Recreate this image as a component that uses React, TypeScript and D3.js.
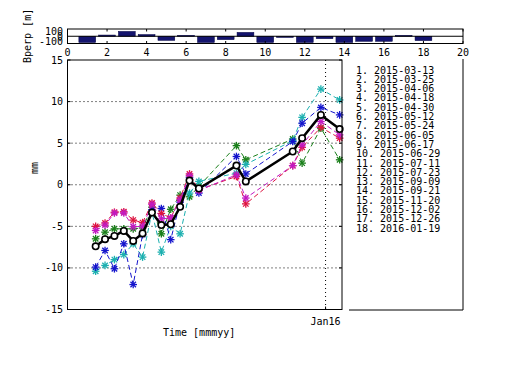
import React from "react";
import * as d3 from "d3";

const dates = ["2015-03-13","2015-03-25","2015-04-06","2015-04-18","2015-04-30","2015-05-12","2015-05-24","2015-06-05","2015-06-17","2015-06-29","2015-07-11","2015-07-23","2015-09-09","2015-09-21","2015-11-20","2015-12-02","2015-12-26","2016-01-19"];
const bperp = [-130, 25, 100, 35, -85, 20, -130, -70, 80, -130, -25, -130, -50, -130, -105, -105, 20, -90];

const meanSeries = [-7.4,-6.55,-6.15,-5.55,-6.75,-5.85,-3.35,-4.85,-4.75,-2.65,0.5,-0.45,2.3,0.4,4.0,5.6,8.4,6.7];
const redSeries = [-5.0,-4.6,-3.3,-3.25,-4.25,-4.55,-2.2,-3.45,-4.0,-1.6,1.3,-0.6,1.0,-2.3,2.3,4.5,6.9,5.6];
const magentaSeries = [-5.5,-4.85,-3.4,-3.4,-5.05,-5.0,-2.35,-4.1,-4.0,-1.8,1.1,-0.7,1.2,-1.6,2.3,4.8,7.6,6.0];
const greenSeries = [-6.5,-5.7,-5.3,-5.3,-5.3,-5.2,-2.7,-5.9,-2.95,-1.25,-1.45,-0.2,4.7,3.0,5.5,2.6,6.8,3.0];
const blueSeries = [-9.9,-7.9,-10.1,-7.1,-12.0,-6.0,-3.0,-2.85,-6.6,-2.1,0.9,-1.0,3.4,1.3,5.2,7.4,9.3,8.4];
const cyanSeries = [-10.4,-9.7,-9.0,-8.4,-7.1,-8.7,-3.3,-8.1,-5.0,-5.9,-1.0,0.4,1.4,2.45,5.3,8.1,11.5,10.2];

const colorSeries = [
  { values: greenSeries, color: "#1a7f1a" },
  { values: cyanSeries, color: "#1cb0b0" },
  { values: blueSeries, color: "#1414cc" },
  { values: redSeries, color: "#dd1440" },
  { values: magentaSeries, color: "#c21ac2" },
];

const yTicks = [-15, -10, -5, 0, 5, 10, 15];
const gridTicks = [-10, -5, 0, 5, 10];
const barXTicks = [0, 2, 4, 6, 8, 10, 12, 14, 16, 18, 20];
const barYTicks = [100, 0, -100];

const FONT = "'DejaVu Sans Mono', monospace";

function Star({ x, y, color }: { x: number; y: number; color: string }) {
  const r = 3.8;
  const d = r * 0.72;
  return (
    <g stroke={color} strokeWidth={1.3}>
      <line x1={x - r} y1={y} x2={x + r} y2={y} />
      <line x1={x} y1={y - r} x2={x} y2={y + r} />
      <line x1={x - d} y1={y - d} x2={x + d} y2={y + d} />
      <line x1={x - d} y1={y + d} x2={x + d} y2={y - d} />
    </g>
  );
}

export default function App() {
  const parse = d3.timeParse("%Y-%m-%d");
  const dts = dates.map((s) => parse(s) as Date);

  const L = 67.5, R = 342, T = 60, B = 309.5;
  const x = d3.scaleTime().domain([new Date(2015, 1, 5), new Date(2016, 0, 22)]).range([L, R]);
  const y = d3.scaleLinear().domain([-15, 15]).range([B, T]);

  const bx = d3.scaleLinear().domain([0, 20]).range([67.5, 463]);
  const by = d3.scaleLinear().domain([-150, 150]).range([43.5, 29]);

  const line = d3.line<number>().x((_, i) => x(dts[i])).y((v) => y(v));
  const jan16 = x(new Date(2016, 0, 1));

  return (
    <svg width={512} height={384} style={{ position: "absolute", left: 0, top: 0, background: "#fff" }} fontFamily={FONT}>
      <rect width={512} height={384} fill="#fff" />
      {/* Bar chart */}
      {bperp.map((v, i) => {
        const cx = bx(i + 1);
        const w = bx(0.85) - bx(0);
        return (
          <rect key={i} x={cx - w / 2} y={Math.min(by(v), by(0))} width={w} height={Math.abs(by(v) - by(0))}
            fill="#14146e" stroke="#000040" strokeWidth={0.5} />
        );
      })}
      <line x1={bx(0)} x2={bx(20)} y1={by(0)} y2={by(0)} stroke="#000" strokeWidth={1} />
      <rect x={bx(0)} y={29} width={bx(20) - bx(0)} height={14.5} fill="none" stroke="#000" strokeWidth={1} />
      {barXTicks.map((t) => (
        <g key={t}>
          <line x1={bx(t)} x2={bx(t)} y1={29} y2={31.5} stroke="#000" />
          <line x1={bx(t)} x2={bx(t)} y1={41} y2={43.5} stroke="#000" />
          <text x={bx(t)} y={56} fontSize={10} textAnchor="middle" fill="#000">{t}</text>
        </g>
      ))}
      {barYTicks.map((t) => (
        <text key={t} x={63} y={by(t) + 3.5} fontSize={10} textAnchor="end" fill="#000">{t}</text>
      ))}
      <text transform="translate(31,63) rotate(-90)" fontSize={10} fill="#000">Bperp [m]</text>

      {/* Main plot grid */}
      {gridTicks.map((t) => (
        <line key={t} x1={L} x2={R} y1={y(t)} y2={y(t)} stroke="#000" strokeWidth={1} strokeDasharray="1,3" />
      ))}
      <line x1={jan16} x2={jan16} y1={T} y2={B} stroke="#000" strokeWidth={1} strokeDasharray="1,3" />

      {/* colored series */}
      {colorSeries.map((s, k) => (
        <g key={k}>
          <path d={line(s.values) || ""} fill="none" stroke={s.color} strokeWidth={1} strokeDasharray="5,3" />
          {s.values.map((v, i) => (
            <Star key={i} x={x(dts[i])} y={y(v)} color={s.color} />
          ))}
        </g>
      ))}
      {/* mean series */}
      <path d={line(meanSeries) || ""} fill="none" stroke="#000" strokeWidth={2.5} strokeLinejoin="round" />
      {meanSeries.map((v, i) => (
        <circle key={i} cx={x(dts[i])} cy={y(v)} r={3.2} fill="#fff" stroke="#000" strokeWidth={1.6} />
      ))}

      {/* axes box */}
      <rect x={L} y={T} width={R - L} height={B - T} fill="none" stroke="#000" strokeWidth={1} />
      {yTicks.map((t) => (
        <g key={t}>
          <line x1={L} x2={L + 3} y1={y(t)} y2={y(t)} stroke="#000" />
          <line x1={R - 3} x2={R} y1={y(t)} y2={y(t)} stroke="#000" />
          <text x={63} y={y(t) + 3.5} fontSize={10} textAnchor="end" fill="#000">{t}</text>
        </g>
      ))}
      <line x1={jan16} x2={jan16} y1={B - 3} y2={B} stroke="#000" />
      <text x={jan16} y={325} fontSize={10} textAnchor="middle" fill="#000">Jan16</text>
      <text x={163} y={336} fontSize={10} fill="#000">Time [mmmyy]</text>
      <text transform="translate(38,168) rotate(-90)" fontSize={10} textAnchor="middle" fill="#000">mm</text>

      {/* legend */}
      <line x1={463} x2={463} y1={59} y2={310} stroke="#000" />
      <line x1={349} x2={463} y1={310} y2={310} stroke="#000" />
      {dates.map((dstr, i) => (
        <text key={i} x={356} y={73.5 + i * 9.3} fontSize={10} fill="#000">{`${i + 1}. ${dstr}`}</text>
      ))}
    </svg>
  );
}
